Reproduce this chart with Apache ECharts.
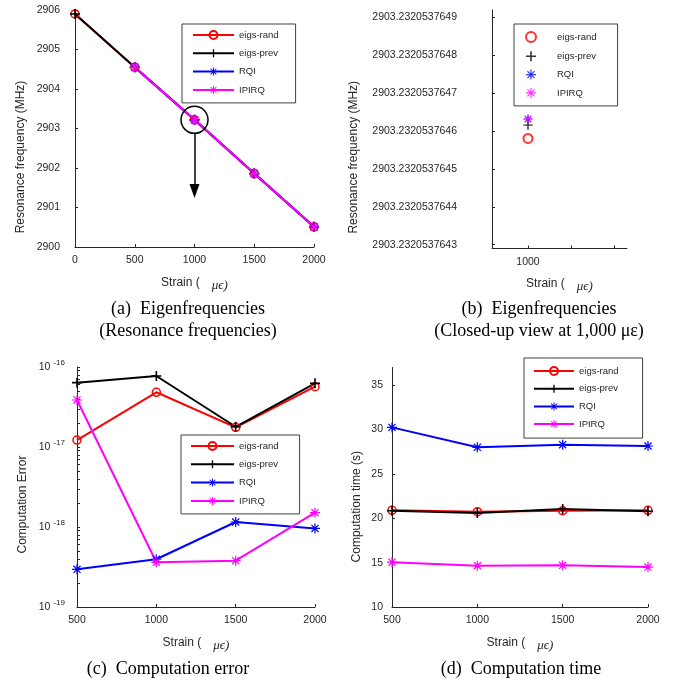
<!doctype html>
<html>
<head>
<meta charset="utf-8">
<title>Eigenfrequency / error / time</title>
<style>
  html, body { margin: 0; padding: 0; background: #fff; }
  #main { width: 678px; height: 683px; }
</style>
</head>
<body>
<div id="main"></div>
<script src="https://cdn.jsdelivr.net/npm/echarts@6/dist/echarts.min.js"></script>
<script>
var methods = ['eigs-rand', 'eigs-prev', 'RQI', 'IPIRQ'];

// (a) eigenfrequencies
var strain = [0, 500, 1000, 1500, 2000];
var freqRand = [2905.90, 2904.55, 2903.22, 2901.86, 2900.51];
var freqPrev = [2905.90, 2904.55, 2903.22, 2901.86, 2900.51];
var freqRQI = [null, 2904.55, 2903.22, 2901.86, 2900.51];
var freqIPIRQ = [null, 2904.55, 2903.22, 2901.86, 2900.51];

// (b) close-up at 1000
var closeStrain = 1000;
var closeValues = [2903.2320537645810, 2903.2320537646160, 2903.2320537646320, 2903.2320537646320];
var closeTicks = ['2903.2320537643', '2903.2320537644', '2903.2320537645', '2903.2320537646',
                  '2903.2320537647', '2903.2320537648', '2903.2320537649'];

// (c) computation error
var strain2 = [500, 1000, 1500, 2000];
var errRand = [1.22e-17, 4.83e-17, 1.76e-17, 5.67e-17];
var errPrev = [6.37e-17, 7.72e-17, 1.79e-17, 6.25e-17];
var errRQI = [2.96e-19, 3.95e-19, 1.155e-18, 9.6e-19];
var errIPIRQ = [3.87e-17, 3.62e-19, 3.79e-19, 1.51e-18];

// (d) computation time
var timeRand = [20.9, 20.75, 20.85, 20.9];
var timePrev = [20.85, 20.6, 21.05, 20.8];
var timeRQI = [30.25, 28.0, 28.3, 28.15];
var timeIPIRQ = [15.05, 14.65, 14.7, 14.5];
var timeTicks = [10, 15, 20, 25, 30, 35];

var ink = '#262626';
var sans = 'Liberation Sans';
var serif = 'Liberation Serif';
var colors = ['#ff0000', '#000000', '#0000ff', '#ff00ff'];
var PLUS = 'path://M4.2,0H5.8V4.2H10V5.8H5.8V10H4.2V5.8H0V4.2H4.2Z';
var STAR = 'path://M4.4,0H5.6V10H4.4Z M0,5.6L0,4.4L10,4.4L10,5.6Z ' +
           'M1.036,1.884L1.884,1.036L8.964,8.116L8.116,8.964Z ' +
           'M1.036,8.116L8.116,1.036L8.964,1.884L1.884,8.964Z';
var symbols = ['circle', PLUS, STAR, STAR];

function plain(v) { return String(v); }

function pairs(xs, ys) {
    var out = [];
    for (var i = 0; i < xs.length; i++) {
        if (ys[i] != null) out.push([xs[i], ys[i]]);
    }
    return out;
}

function lineSeries(k, panel, xs, ys, gi) {
    return {
        type: 'line',
        name: methods[k] + '|' + panel,
        xAxisIndex: gi, yAxisIndex: gi,
        data: pairs(xs, ys),
        symbol: symbols[k],
        symbolSize: k === 0 ? 8 : 10,
        showAllSymbol: true,
        lineStyle: { color: colors[k], width: 2 },
        itemStyle: k === 0
            ? { color: 'rgba(0,0,0,0)', borderColor: colors[k], borderWidth: 1.5 }
            : { color: colors[k], borderWidth: 0 },
        emphasis: { disabled: true }
    };
}

function scatterSeries(k, gi) {
    return {
        type: 'scatter',
        name: methods[k] + '|b',
        xAxisIndex: gi, yAxisIndex: gi,
        data: [[closeStrain, closeValues[k]]],
        symbol: symbols[k],
        symbolSize: 9,
        itemStyle: k === 0
            ? { color: 'rgba(0,0,0,0)', borderColor: colors[k], borderWidth: 2 }
            : { color: colors[k], borderWidth: 0 },
        emphasis: { disabled: true }
    };
}

var strainName = '{a|Strain (}{b|μϵ)}';
var strainStyle = {
    rich: {
        a: { fontFamily: sans, fontSize: 12, color: ink },
        b: { fontFamily: serif, fontStyle: 'italic', fontSize: 13, color: ink, padding: [6, 0, 0, 12] }
    }
};

function xAxis(gi, min, max, extra) {
    var ax = {
        type: 'value', gridIndex: gi, min: min, max: max, interval: 500,
        name: strainName, nameLocation: 'middle', nameGap: 26, nameTextStyle: strainStyle,
        axisLine: { onZero: false, lineStyle: { color: ink, width: 1 } },
        axisTick: { inside: true, length: 3, lineStyle: { color: ink } },
        axisLabel: { color: ink, fontFamily: sans, fontSize: 10.5, margin: 8, formatter: plain },
        splitLine: { show: false }
    };
    return Object.assign(ax, extra || {});
}

function yAxis(gi, name, gap, shift, extra) {
    var ax = {
        type: 'value', gridIndex: gi,
        name: name, nameLocation: 'middle', nameGap: gap,
        nameTextStyle: { fontFamily: sans, fontSize: 12, color: ink, padding: [0, shift, 0, 0] },
        axisLine: { onZero: false, lineStyle: { color: ink, width: 1 } },
        axisTick: { inside: true, length: 3, lineStyle: { color: ink } },
        axisLabel: { color: ink, fontFamily: sans, fontSize: 10.5, margin: 12, formatter: plain },
        splitLine: { show: false }
    };
    return Object.assign(ax, extra || {});
}

function legend(panel, left, top, pad, iw, gap) {
    return {
        data: methods.map(function (m) { return m + '|' + panel; }),
        formatter: function (n) { return n.split('|')[0]; },
        orient: 'vertical', left: left, top: top,
        itemWidth: iw, itemHeight: 10, itemGap: gap,
        padding: pad,
        backgroundColor: '#fff', borderColor: '#404040', borderWidth: 1,
        selectedMode: false,
        textStyle: { fontFamily: sans, fontSize: 9.5, color: ink }
    };
}

var logTicks = [];
for (var d = -19; d <= -17; d++) {
    for (var m = 1; m <= 9; m++) logTicks.push(m * Math.pow(10, d));
}
logTicks.push(1e-16);

var series = [];
var fa = [freqRand, freqPrev, freqRQI, freqIPIRQ];
var ec = [errRand, errPrev, errRQI, errIPIRQ];
var tc = [timeRand, timePrev, timeRQI, timeIPIRQ];
for (var k = 0; k < 4; k++) series.push(lineSeries(k, 'a', strain, fa[k], 0));
for (k = 0; k < 4; k++) series.push(scatterSeries(k, 1));
for (k = 0; k < 4; k++) series.push(lineSeries(k, 'c', strain2, ec[k], 2));
for (k = 0; k < 4; k++) series.push(lineSeries(k, 'd', strain2, tc[k], 3));

// annotation on (a): circle at 1000 and arrow pointing down
series[3].markPoint = {
    silent: true,
    symbol: 'circle', symbolSize: 27,
    itemStyle: { color: 'rgba(0,0,0,0)', borderColor: '#000', borderWidth: 1.5 },
    label: { show: false },
    data: [{ coord: [1000, 2903.22] }]
};
series[3].markLine = {
    silent: true,
    symbol: ['none', 'triangle'],
    symbolSize: [10, 14],
    lineStyle: { color: '#000', width: 1.5, type: 'solid' },
    label: { show: false },
    data: [[{ coord: [1000, 2902.88] }, { coord: [1000, 2901.42] }]]
};

var closeTickValues = closeTicks.map(parseFloat);

var chart = echarts.init(document.getElementById('main'));
chart.setOption({
    animation: false,
    textStyle: { fontFamily: sans },
    grid: [
        { left: 75, top: 10, width: 239, height: 237 },
        { left: 492, top: 10, width: 135, height: 238.5 },
        { left: 77, top: 367, width: 238, height: 240 },
        { left: 392, top: 367.5, width: 256, height: 239.5 }
    ],
    xAxis: [
        xAxis(0, 0, 2000),
        xAxis(1, 581.4, 2151, {
            interval: null,
            axisTick: { inside: true, length: 3, lineStyle: { color: ink }, customValues: [1000, 1500, 2000] },
            axisLabel: { color: ink, fontFamily: sans, fontSize: 10.5, margin: 8, customValues: [1000], formatter: plain }
        }),
        xAxis(2, 500, 2000),
        xAxis(3, 500, 2000)
    ],
    yAxis: [
        yAxis(0, 'Resonance frequency (MHz)', 48, 57, { min: 2900, max: 2906, interval: 1,
            axisLabel: { color: ink, fontFamily: sans, fontSize: 10.5, margin: 15, formatter: plain } }),
        yAxis(1, 'Resonance frequency (MHz)', 132, 56, {
            min: 2903.23205376429, max: 2903.23205376492,
            axisTick: { inside: true, length: 3, lineStyle: { color: ink }, customValues: closeTickValues },
            axisLabel: {
                color: ink, fontFamily: sans, fontSize: 10.5, margin: 35, padding: [0, 0, 6, 0],
                customValues: closeTickValues,
                formatter: function (v) {
                    var best = 0;
                    for (var i = 1; i < closeTickValues.length; i++) {
                        if (Math.abs(closeTickValues[i] - v) < Math.abs(closeTickValues[best] - v)) best = i;
                    }
                    return closeTicks[best];
                }
            }
        }),
        yAxis(2, 'Computation Error', 48, 35, {
            type: 'log', logBase: 10, min: 1e-19, max: 1e-16,
            axisTick: { inside: true, length: 3, lineStyle: { color: ink }, customValues: logTicks },
            axisLabel: {
                color: ink, fontFamily: sans, margin: 12,
                formatter: function (v) {
                    return '{b|10}{s|' + Math.round(Math.log10(v)) + '}';
                },
                rich: {
                    b: { fontFamily: sans, fontSize: 10.5, color: ink },
                    s: { fontFamily: sans, fontSize: 8, color: ink, padding: [0, 0, 8, 3] }
                }
            }
        }),
        yAxis(3, 'Computation time (s)', 29, 39, { min: 10, max: 37,
            axisTick: { inside: true, length: 3, lineStyle: { color: ink }, customValues: timeTicks },
            axisLabel: { color: ink, fontFamily: sans, fontSize: 10.5, margin: 9, customValues: timeTicks, formatter: plain } })
    ],
    legend: [
        legend('a', 182, 24, [6, 17, 8, 10], 41, 8.3),
        legend('b', 514, 24, [7, 21, 8, 11], 42, 8.3),
        legend('c', 181, 435, [6, 21, 8, 9], 43, 8.3),
        legend('d', 524, 358, [8, 24, 9, 9], 40, 7.7)
    ],
    graphic: [
        { type: 'text', x: 188, y: 309, style: { text: '(a)  Eigenfrequencies', fontFamily: serif, fontSize: 18, fill: '#000', align: 'center', verticalAlign: 'middle' } },
        { type: 'text', x: 188, y: 331, style: { text: '(Resonance frequencies)', fontFamily: serif, fontSize: 18, fill: '#000', align: 'center', verticalAlign: 'middle' } },
        { type: 'text', x: 539, y: 309, style: { text: '(b)  Eigenfrequencies', fontFamily: serif, fontSize: 18, fill: '#000', align: 'center', verticalAlign: 'middle' } },
        { type: 'text', x: 539, y: 331, style: { text: '(Closed-up view at 1,000 με)', fontFamily: serif, fontSize: 18, fill: '#000', align: 'center', verticalAlign: 'middle' } },
        { type: 'text', x: 168, y: 669, style: { text: '(c)  Computation error', fontFamily: serif, fontSize: 18, fill: '#000', align: 'center', verticalAlign: 'middle' } },
        { type: 'text', x: 521, y: 669, style: { text: '(d)  Computation time', fontFamily: serif, fontSize: 18, fill: '#000', align: 'center', verticalAlign: 'middle' } }
    ],
    series: series
});

window.onresize = chart.resize;
</script>
</body>
</html>
